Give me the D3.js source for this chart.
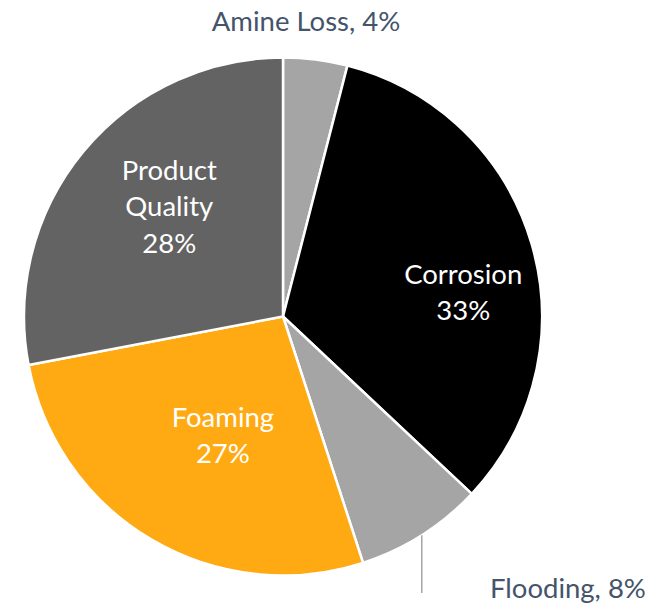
<!DOCTYPE html>
<html>
<head>
<meta charset="utf-8">
<script src="https://cdn.jsdelivr.net/npm/d3@7"></script>
<style>
  html, body { margin: 0; padding: 0; background: #fff; }
  svg text { font-family: Lato, "Open Sans", sans-serif; }
</style>
</head>
<body>
<svg id="chart" width="665" height="608"></svg>
<script>
// Causes of amine unit problems, share of cases (%)
const categories = ["Amine Loss", "Corrosion", "Flooding", "Foaming", "Product Quality"];
const shares = [4, 33, 8, 27, 28];
const sliceColors = ["#A5A5A5", "#000000", "#A5A5A5", "#FFAA12", "#636363"];

const svg = d3.select("#chart");
const cx = 283, cy = 316.5, radius = 259;
const fontSize = 27.5;
const g = svg.append("g").attr("transform", `translate(${cx},${cy})`);

const data = categories.map((c, i) => ({ name: c, value: shares[i], color: sliceColors[i] }));

const pie = d3.pie().value(d => d.value).sort(null);
const arcs = pie(data);
const arc = d3.arc().innerRadius(0).outerRadius(radius);

g.selectAll("path.slice")
  .data(arcs)
  .join("path")
  .attr("class", "slice")
  .attr("d", arc)
  .attr("fill", d => d.data.color)
  .attr("stroke", "#fff")
  .attr("stroke-width", 2.5)
  .attr("stroke-linejoin", "round");

// labels drawn inside the large slices
const labelArc = d3.arc().innerRadius(radius * 0.6).outerRadius(radius * 0.6);
const insideNudge = {
  "Corrosion": [31, 19],
  "Foaming": [19, -15],
  "Product Quality": [6, -11]
};
const insideLines = {
  "Corrosion": ["Corrosion"],
  "Foaming": ["Foaming"],
  "Product Quality": ["Product", "Quality"]
};
const lineH = 36.5;
arcs.filter(a => insideLines[a.data.name]).forEach(a => {
  const [x0, y0] = labelArc.centroid(a);
  const [nx, ny] = insideNudge[a.data.name];
  const lines = insideLines[a.data.name].concat([a.data.value + "%"]);
  const top = y0 + ny - (lines.length - 1) * lineH / 2;
  const t = g.append("text")
    .attr("text-anchor", "middle")
    .attr("fill", "#fff")
    .attr("font-size", fontSize);
  lines.forEach((ln, i) => {
    t.append("tspan")
      .attr("x", x0 + nx)
      .attr("y", top + i * lineH)
      .attr("dy", "0.35em")
      .text(ln);
  });
});

// outside labels for the small slices
const outerColor = "#44546A";
const amine = arcs[0];
g.append("text")
  .attr("x", 306 - cx)
  .attr("y", 31 - cy)
  .attr("text-anchor", "middle")
  .attr("fill", outerColor)
  .attr("font-size", fontSize)
  .text(`${amine.data.name}, ${amine.data.value}%`);

const flood = arcs[2];
const midA = (flood.startAngle + flood.endAngle) / 2;
const ex = radius * Math.sin(midA), ey = -radius * Math.cos(midA);
g.append("line")
  .attr("x1", ex).attr("y1", ey)
  .attr("x2", ex).attr("y2", 593 - cy)
  .attr("stroke", "#A5A5A5")
  .attr("stroke-width", 1.5);
g.append("text")
  .attr("x", 490 - cx)
  .attr("y", 598 - cy)
  .attr("text-anchor", "start")
  .attr("fill", outerColor)
  .attr("font-size", fontSize)
  .text(`${flood.data.name}, ${flood.data.value}%`);
</script>
</body>
</html>
